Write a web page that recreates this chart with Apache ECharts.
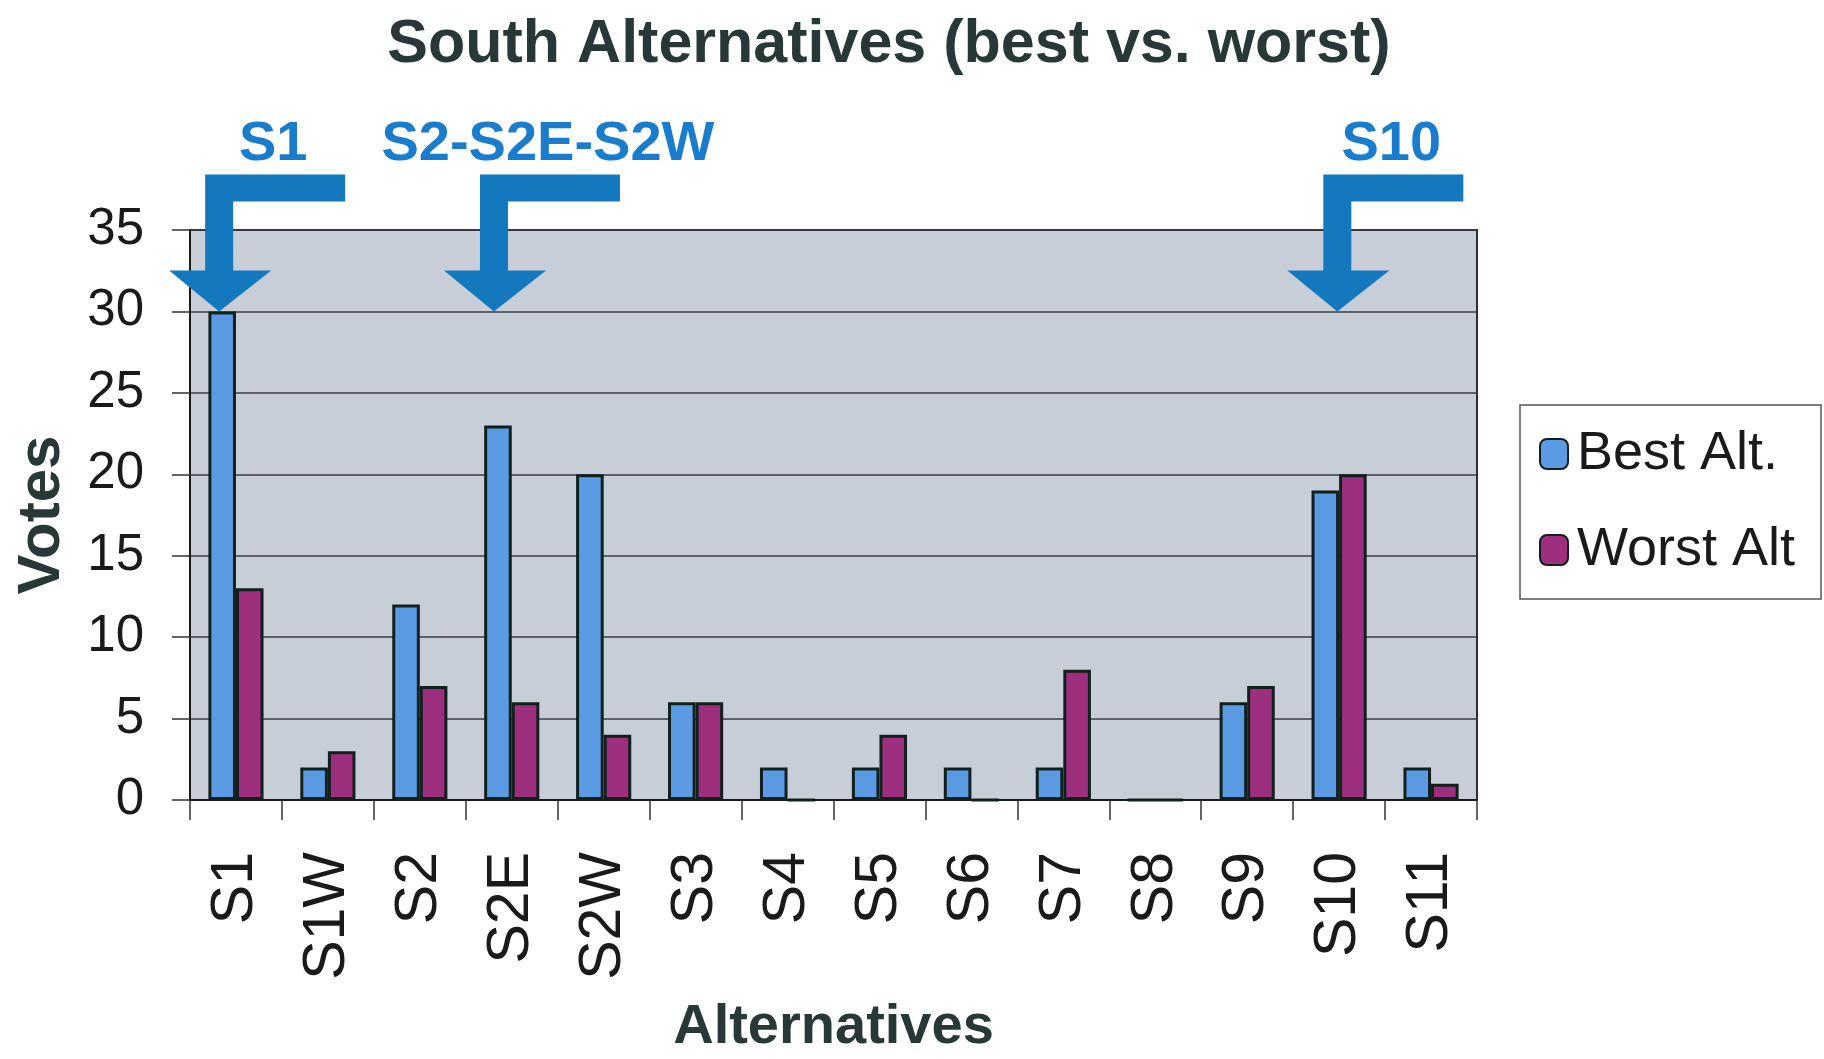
<!DOCTYPE html>
<html>
<head>
<meta charset="utf-8">
<script src="https://cdn.jsdelivr.net/npm/echarts@6/dist/echarts.min.js"></script>
<style>
html, body { margin: 0; padding: 0; background: #fff; }
#main { width: 1824px; height: 1059px; }
</style>
</head>
<body>
<div id="main"></div>
<script>
// data
var categories = ['S1', 'S1W', 'S2', 'S2E', 'S2W', 'S3', 'S4', 'S5', 'S6', 'S7', 'S8', 'S9', 'S10', 'S11'];
var bestAlt = [30, 2, 12, 23, 20, 6, 2, 2, 2, 2, 0, 6, 19, 2];
var worstAlt = [13, 3, 7, 6, 4, 6, 0, 4, 0, 8, 0, 7, 20, 1];
var yTicks = [0, 5, 10, 15, 20, 25, 30, 35];
// arrow notes: label, category the arrow points to, value at the tip
var noteLabels = ['S1', 'S2-S2E-S2W', 'S10'];
var noteCats = ['S1', 'S2E', 'S10'];
var noteValues = [30, 30, 30];

var bold = "'Liberation Sans', Arial, sans-serif";
var plain = "'Liberation Sans', Arial, sans-serif";

// bent arrow, tip at (50,137) of a 176x137 box
var arrowPath = 'path://M36 0 L176 0 L176 27 L64 27 L64 96 L102 96 L50 137 L0 96 L36 96 Z';
var tipShift = [-3, -4, 12];

var notes = noteLabels.map(function (t, i) {
    return {
        name: t,
        coord: [noteCats[i], noteValues[i]],
        symbol: arrowPath,
        symbolSize: [176, 137],
        symbolOffset: [38 + tipShift[i], -68.5],
        itemStyle: { color: '#1478be' },
        label: {
            show: true,
            position: 'top',
            distance: 2,
            offset: [16, 0],
            formatter: t,
            color: '#1a7ccc',
            fontFamily: bold,
            fontWeight: 'bold',
            fontSize: 56
        }
    };
});

var myChart = echarts.init(document.getElementById('main'));
var option = {
    backgroundColor: '#ffffff',
    animation: false,
    title: {
        text: 'South Alternatives (best vs. worst)',
        left: 884,
        textAlign: 'center',
        top: 10,
        textStyle: {
            fontFamily: bold,
            fontWeight: 'bold',
            fontSize: 61,
            color: '#283836'
        }
    },
    legend: {
        orient: 'vertical',
        left: 1520,
        top: 405,
        padding: [22, 26, 22, 19],
        itemGap: 42,
        itemWidth: 28,
        itemHeight: 30,
        backgroundColor: '#ffffff',
        borderColor: '#555',
        borderWidth: 1.5,
        borderRadius: 0,
        textStyle: {
            fontFamily: plain,
            fontSize: 54,
            color: '#1a1a1a',
            padding: [0, 0, 0, 4]
        },
        data: ['Best Alt.', 'Worst Alt']
    },
    grid: {
        left: 190,
        right: 347,
        top: 230,
        bottom: 259,
        outerBoundsMode: 'none',
        containLabel: false,
        show: true,
        backgroundColor: '#c8ced8',
        borderColor: '#2a2f33',
        borderWidth: 2
    },
    xAxis: {
        type: 'category',
        data: categories,
        name: 'Alternatives',
        nameLocation: 'middle',
        nameGap: 200,
        nameTextStyle: {
            fontFamily: bold,
            fontWeight: 'bold',
            fontSize: 56,
            color: '#283836'
        },
        axisLine: { lineStyle: { color: '#1a1a1a', width: 2 } },
        axisTick: { show: true, length: 20, lineStyle: { color: '#333', width: 1.5 } },
        axisLabel: {
            rotate: 90,
            margin: 52,
            fontFamily: plain,
            fontSize: 59,
            color: '#1a1a1a'
        }
    },
    yAxis: {
        type: 'value',
        min: yTicks[0],
        max: yTicks[yTicks.length - 1],
        interval: yTicks[1] - yTicks[0],
        name: 'Votes',
        nameLocation: 'middle',
        nameGap: 118,
        nameTextStyle: {
            fontFamily: bold,
            fontWeight: 'bold',
            fontSize: 60,
            color: '#283836'
        },
        axisLine: { show: true, lineStyle: { color: '#1a1a1a', width: 2 } },
        axisTick: { show: true, length: 18, lineStyle: { color: '#333', width: 1.5 } },
        axisLabel: {
            margin: 46,
            fontFamily: plain,
            fontSize: 51,
            color: '#1a1a1a'
        },
        splitLine: { lineStyle: { color: '#3a3f45', width: 1.5 } }
    },
    series: [{
        name: 'Best Alt.',
        type: 'bar',
        barGap: '0%',
        barCategoryGap: '40%',
        itemStyle: {
            color: '#5b9be3',
            borderColor: '#10201c',
            borderWidth: 3
        },
        data: bestAlt,
        markPoint: {
            data: notes
        }
    }, {
        name: 'Worst Alt',
        type: 'bar',
        barGap: '0%',
        barCategoryGap: '40%',
        itemStyle: {
            color: '#9e2f7e',
            borderColor: '#10201c',
            borderWidth: 3
        },
        data: worstAlt
    }]
};
myChart.setOption(option);
</script>
</body>
</html>
